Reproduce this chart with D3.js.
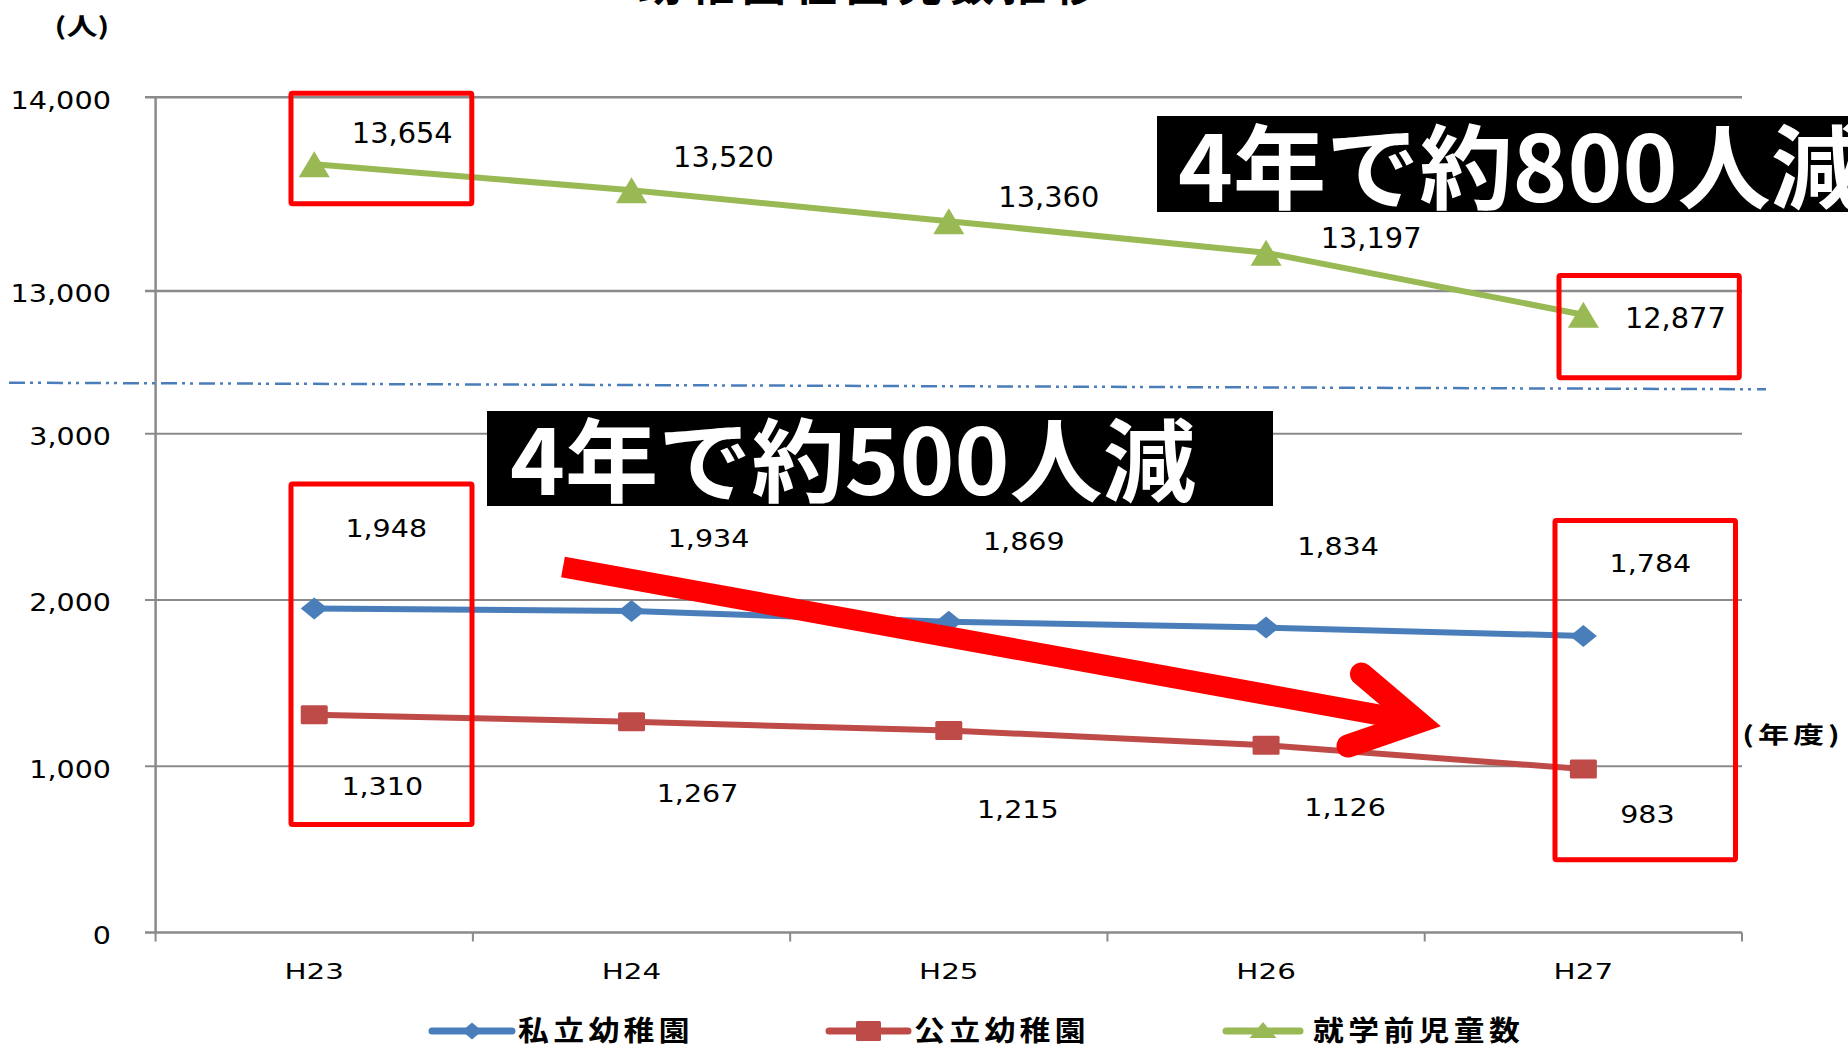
<!DOCTYPE html>
<html>
<head>
<meta charset="utf-8">
<script src="https://cdn.jsdelivr.net/npm/d3@7"></script>
<style>
  html, body { margin: 0; padding: 0; background: #fff; overflow: hidden; }
  svg { display: block; }
</style>
</head>
<body>
<svg id="chart" width="1848" height="1047"></svg>
<script>
// ---------------- data ----------------
const categories = ["H23", "H24", "H25", "H26", "H27"];
const privateKinder = [1948, 1934, 1869, 1834, 1784];   // 私立幼稚園
const publicKinder  = [1310, 1267, 1215, 1126, 983];    // 公立幼稚園
const preschoolKids = [13654, 13520, 13360, 13197, 12877]; // 就学前児童数
const upperTicks = [13000, 14000];
const lowerTicks = [0, 1000, 2000, 3000];
const seriesNames = ["私立幼稚園", "公立幼稚園", "就学前児童数"];
const callouts = ["4年で約800人減", "4年で約500人減"];
const titleText = "幼稚園在園児数推移";
const yUnit = "(人)";
const xUnit = "(年度)";

// ---------------- layout (label offsets relative to marker) ----------------
const upperLabelOff = [[88, -21], [92, -23], [100, -14], [105, -5], [92, 13]];
const blueLabelOff  = [[72, -72], [77, -64], [75, -72], [72, -73], [67, -64]];
const redLabelOff   = [[68, 80], [66, 80], [69, 88], [79, 71], [64, 54]];

const COL_BLUE = "#4a7ebb", COL_RED = "#be4b48", COL_GREEN = "#98b954";
const GRID = "#8a8a8a";

const svg = d3.select("#chart");

const x = d3.scaleBand().domain(categories).range([155.6, 1742]).paddingInner(0).paddingOuter(0);
const cx = c => x(c) + x.bandwidth() / 2;
const yU = d3.scaleLinear().domain([12500, 14000]).range([387.7, 97.3]);
const yL = d3.scaleLinear().domain([0, 3000]).range([932.5, 433.7]);

function T(parent, px, py, s, o) {
  o = o || {};
  const t = parent.append("text")
    .attr("transform", `translate(${px},${py}) scale(${o.sx || 1},1)`)
    .attr("text-anchor", o.anchor || "middle")
    .style("font-family", o.family || "'DejaVu Sans', Verdana, sans-serif")
    .style("font-size", (o.size || 24) + "px")
    .style("font-weight", o.weight || "normal")
    .style("fill", o.fill || "#000")
    .text(s);
  if (o.ls) t.style("letter-spacing", o.ls + "px");
  if (o.textLength) t.attr("textLength", o.textLength).attr("lengthAdjust", "spacingAndGlyphs");
  return t;
}

// ---------------- title (cut off at top) ----------------
T(svg, 872, 1, titleText, {size: 44, weight: "bold", ls: 8, family: "'Noto Sans CJK JP', sans-serif"});

// ---------------- gridlines ----------------
const gGrid = svg.append("g");
upperTicks.forEach(v => {
  gGrid.append("line").attr("x1", 145).attr("x2", 1742).attr("y1", yU(v)).attr("y2", yU(v))
    .attr("stroke", GRID).attr("stroke-width", 2.5);
});
lowerTicks.forEach(v => {
  gGrid.append("line").attr("x1", 145).attr("x2", 1742).attr("y1", yL(v)).attr("y2", yL(v))
    .attr("stroke", GRID).attr("stroke-width", v === 0 ? 2.5 : 2);
});

// ---------------- axes ----------------
const axU = svg.append("g").attr("transform", "translate(155.6,0)")
  .call(d3.axisLeft(yU).tickValues(upperTicks).tickFormat(d3.format(",")).tickSize(0));
const axL = svg.append("g").attr("transform", "translate(155.6,0)")
  .call(d3.axisLeft(yL).tickValues(lowerTicks).tickFormat(d3.format(",")).tickSize(0));
[axU, axL].forEach(a => { a.select(".domain").remove(); });
axU.selectAll("text").attr("x", null).attr("dy", null)
  .attr("transform", "translate(-44.6,11) scale(1.15,1)")
  .attr("text-anchor", "end")
  .style("font-family", "'DejaVu Sans', Verdana, sans-serif").style("font-size", "25px").style("fill", "#000");
axL.selectAll("text").attr("x", null).attr("dy", null)
  .attr("transform", "translate(-44.6,11) scale(1.17,1)")
  .attr("text-anchor", "end")
  .style("font-family", "'DejaVu Sans', Verdana, sans-serif").style("font-size", "24.4px").style("fill", "#000");

// vertical axis line
svg.append("line").attr("x1", 155.6).attr("x2", 155.6).attr("y1", yU(14000) - 1).attr("y2", yL(0) + 1)
  .attr("stroke", GRID).attr("stroke-width", 2.5);

// x axis ticks between categories
const boundaries = categories.map(c => x(c)).concat([x.range()[1]]);
boundaries.forEach(b => {
  svg.append("line").attr("x1", b).attr("x2", b).attr("y1", yL(0)).attr("y2", yL(0) + 9)
    .attr("stroke", GRID).attr("stroke-width", 2);
});
const axX = svg.append("g").attr("transform", `translate(0,${yL(0)})`)
  .call(d3.axisBottom(x).tickSize(0));
axX.select(".domain").remove();
axX.selectAll("text").attr("y", null).attr("dy", null)
  .attr("transform", "translate(0,46) scale(1.4,1)")
  .style("font-family", "'DejaVu Sans', Verdana, sans-serif").style("font-size", "21px").style("fill", "#000");

// break line (dash-dot-dot)
svg.append("line").attr("x1", 9).attr("y1", 382.7).attr("x2", 1766).attr("y2", 389.3)
  .attr("stroke", COL_BLUE).attr("stroke-width", 2.5).attr("stroke-dasharray", "16 5 3 5 3 6");

// ---------------- series ----------------
function series(values, yScale, color) {
  const line = d3.line().x((d, i) => cx(categories[i])).y(d => yScale(d));
  svg.append("path").datum(values).attr("d", line).attr("fill", "none")
    .attr("stroke", color).attr("stroke-width", 6).attr("stroke-linejoin", "round");
}
series(preschoolKids, yU, COL_GREEN);
series(privateKinder, yL, COL_BLUE);
series(publicKinder, yL, COL_RED);

function diamond(g, px, py, w, h, color) {
  g.append("path").attr("d", `M${px - w / 2},${py} L${px},${py - h / 2} L${px + w / 2},${py} L${px},${py + h / 2} Z`)
    .attr("fill", color);
}
function square(g, px, py, w, h, color) {
  g.append("rect").attr("x", px - w / 2).attr("y", py - h / 2).attr("width", w).attr("height", h)
    .attr("rx", 1.5).attr("fill", color);
}
function triangle(g, px, py, w, h, color) {
  g.append("path").attr("d", `M${px},${py - h / 2} L${px + w / 2},${py + h / 2} L${px - w / 2},${py + h / 2} Z`)
    .attr("fill", color);
}
const gM = svg.append("g");
preschoolKids.forEach((v, i) => triangle(gM, cx(categories[i]), yU(v), 31, 26, COL_GREEN));
privateKinder.forEach((v, i) => diamond(gM, cx(categories[i]), yL(v), 27, 22, COL_BLUE));
publicKinder.forEach((v, i) => square(gM, cx(categories[i]), yL(v), 27, 19, COL_RED));

// data labels
const fmt = d3.format(",");
const gLab = svg.append("g");
preschoolKids.forEach((v, i) => T(gLab, cx(categories[i]) + upperLabelOff[i][0], yU(v) + upperLabelOff[i][1], fmt(v), {size: 28, sx: 1.03}));
privateKinder.forEach((v, i) => T(gLab, cx(categories[i]) + blueLabelOff[i][0], yL(v) + blueLabelOff[i][1], fmt(v), {size: 24.4, sx: 1.17}));
publicKinder.forEach((v, i) => T(gLab, cx(categories[i]) + redLabelOff[i][0], yL(v) + redLabelOff[i][1], fmt(v), {size: 24.4, sx: 1.17}));

// unit labels
T(svg, 82, 35, yUnit, {size: 24, sx: 1.3, weight: "bold", family: "'Noto Sans CJK JP', sans-serif"});
T(svg, 1793, 743, xUnit, {size: 23, sx: 1.35, ls: 3, weight: "bold", family: "'Noto Sans CJK JP', sans-serif"});

// ---------------- legend ----------------
const gLeg = svg.append("g");
const legY = 1031;
const legItems = [
  {x1: 432, x2: 512, tx: 518, color: COL_BLUE, m: "d"},
  {x1: 829, x2: 908, tx: 914, color: COL_RED, m: "s"},
  {x1: 1226, x2: 1300, tx: 1313, color: COL_GREEN, m: "t"}
];
legItems.forEach((it, i) => {
  gLeg.append("line").attr("x1", it.x1).attr("x2", it.x2).attr("y1", legY).attr("y2", legY)
    .attr("stroke", it.color).attr("stroke-width", 7).attr("stroke-linecap", "round");
  const mx = (it.x1 + it.x2) / 2;
  if (it.m === "d") diamond(gLeg, mx, legY, 20, 17, it.color);
  if (it.m === "s") square(gLeg, mx, legY, 25, 20, it.color);
  if (it.m === "t") triangle(gLeg, mx, legY - 1, 27, 16, it.color);
  T(gLeg, it.tx, 1041, seriesNames[i], {size: 28, sx: 1.1, ls: 4, anchor: "start", weight: "bold",
    family: "'Noto Sans CJK JP', sans-serif"});
});

// ---------------- annotations ----------------
const gA = svg.append("g");
[[291, 93.2, 180.8, 110.6], [1559, 275.5, 180.3, 102.3], [291, 484, 181, 340.6], [1555, 520.5, 180.5, 339.2]]
  .forEach(r => gA.append("rect").attr("x", r[0]).attr("y", r[1]).attr("width", r[2]).attr("height", r[3])
    .attr("rx", 1.5).attr("fill", "none").attr("stroke", "#ff0000").attr("stroke-width", 5));

// black callout boxes
gA.append("rect").attr("x", 1157).attr("y", 116).attr("width", 720).attr("height", 96).attr("fill", "#000");
T(gA, 1178, 202, callouts[0], {size: 92, weight: "bold", fill: "#fff", anchor: "start",
  family: "'Noto Sans CJK JP', sans-serif", textLength: 686});
gA.append("rect").attr("x", 487).attr("y", 411).attr("width", 786).attr("height", 95).attr("fill", "#000");
T(gA, 510, 495, callouts[1], {size: 91, weight: "bold", fill: "#fff", anchor: "start",
  family: "'Noto Sans CJK JP', sans-serif", textLength: 686});

// red arrow
gA.append("line").attr("x1", 563).attr("y1", 567).attr("x2", 1418).attr("y2", 722)
  .attr("stroke", "#ff0000").attr("stroke-width", 21).attr("stroke-linecap", "butt");
gA.append("polyline").attr("points", "1361.5,674 1418,722 1348,746")
  .attr("fill", "none").attr("stroke", "#ff0000").attr("stroke-width", 23)
  .attr("stroke-linecap", "round").attr("stroke-linejoin", "miter").attr("stroke-miterlimit", 6);
</script>
</body>
</html>
